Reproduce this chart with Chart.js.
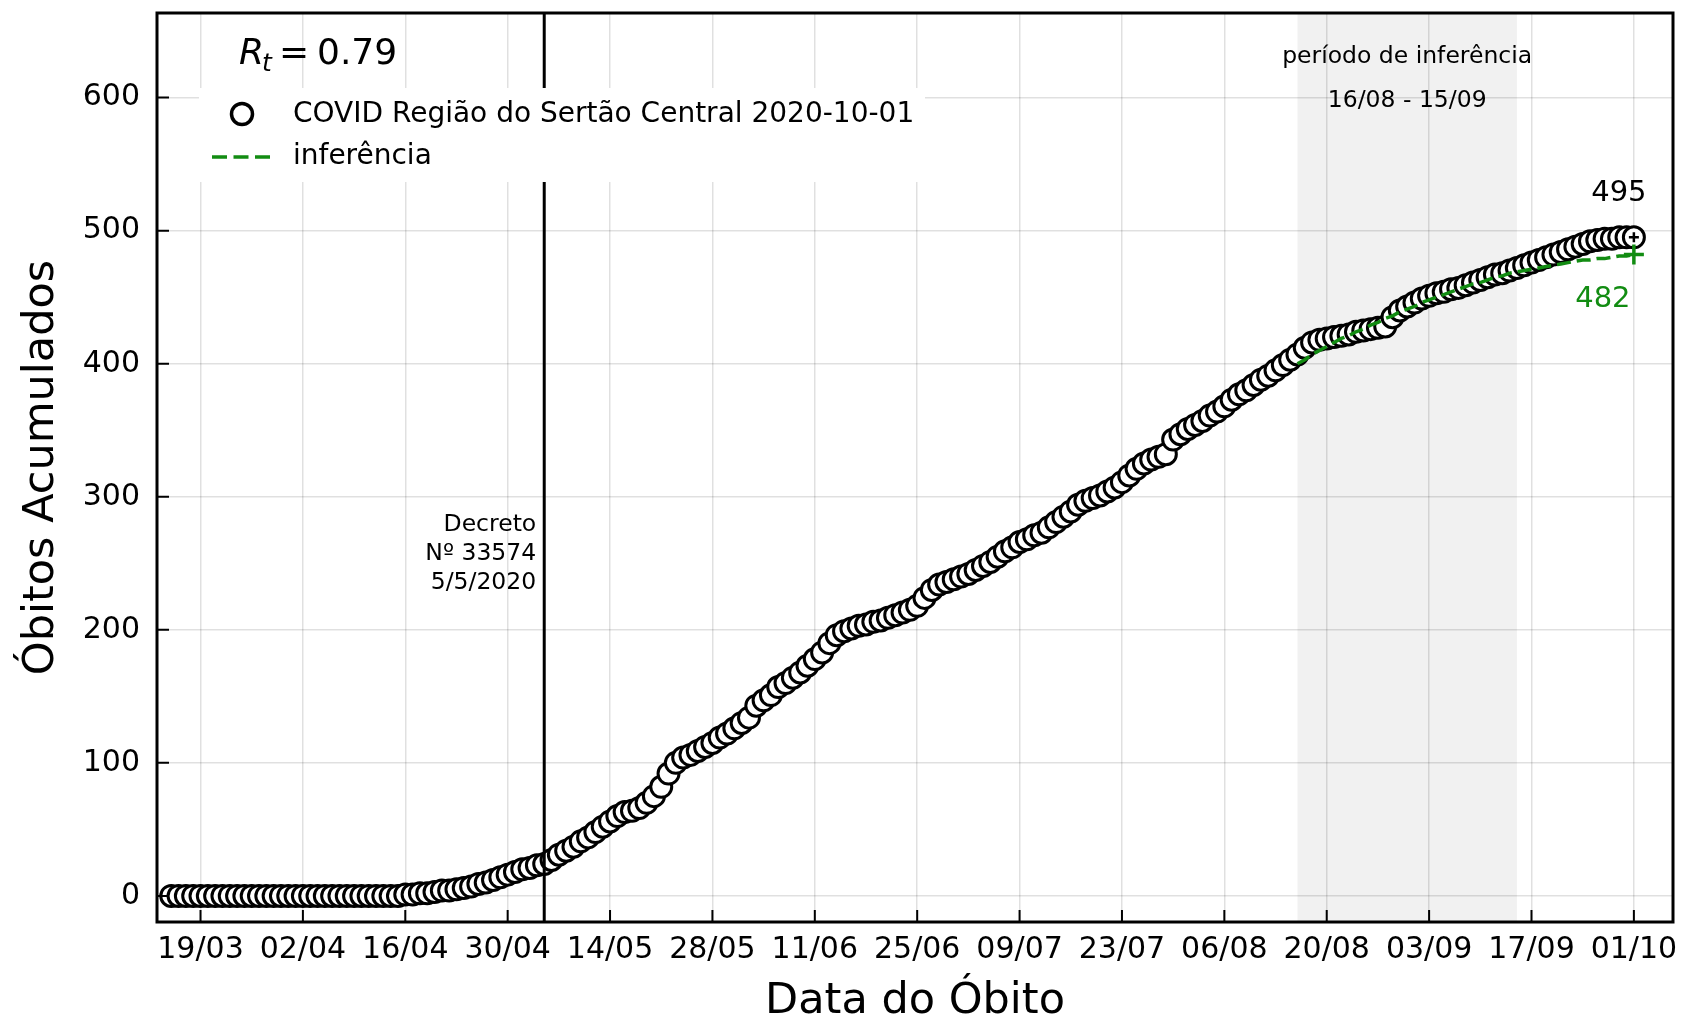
<!DOCTYPE html>
<html>
<head>
<meta charset="utf-8">
<script src="https://cdn.jsdelivr.net/npm/chart.js@4.4.1/dist/chart.umd.min.js"></script>
<style>
  html, body { margin: 0; padding: 0; background: #fff; }
  canvas { display: block; }
</style>
</head>
<body>
<canvas id="myChart" width="1681" height="1018"></canvas>
<script>
// óbitos acumulados por dia, a partir de startDate
const startDate = '2020-03-15';
const obitos = [
  // março 15-31
  0, 0, 0, 0, 0, 0, 0, 0, 0, 0, 0, 0, 0, 0, 0, 0, 0,
  // abril
  0, 0, 0, 0, 0, 0, 0, 0, 0, 0, 0, 0, 0, 0, 0,
  1, 1, 2, 2, 3, 4, 4, 5, 6, 7, 9, 10, 12, 14, 16,
  // maio
  18, 20, 21, 23, 24, 27, 31, 34, 37, 41, 44, 48, 52, 56, 60, 63,
  64, 66, 70, 75, 82, 92, 100, 104, 106, 109, 112, 115, 119, 122, 126,
  // junho
  130, 134, 143, 147, 151, 157, 160, 164, 168, 173, 178, 183, 190, 196, 199,
  201, 203, 204, 206, 207, 209, 211, 213, 215, 218, 224, 230, 234, 236, 238,
  // julho
  240, 242, 245, 248, 251, 255, 259, 262, 266, 268, 271, 273, 277, 281, 285, 289,
  294, 297, 299, 301, 304, 307, 311, 316, 321, 325, 328, 330, 332, 343, 347,
  // agosto
  351, 354, 357, 361, 364, 368, 373, 377, 380, 384, 388, 391, 395, 399, 403, 407,
  412, 416, 418, 419, 420, 421, 422, 424, 425, 426, 427, 428, 435, 440, 443,
  // setembro
  446, 449, 451, 453, 454, 456, 457, 459, 461, 463, 465, 467, 468, 470, 472,
  474, 476, 478, 480, 482, 484, 486, 488, 490, 492, 493, 494, 494, 495, 495,
  // outubro
  495
];

const inferenciaStart = '2020-08-16';
const inferencia = [
  400, 403, 407, 410, 413, 416, 419, 421, 424, 426, 429, 431, 434, 436, 439, 441,
  443, 446, 448, 450, 452, 454, 456, 458, 460, 461, 463, 465, 466, 468, 469,
  470, 471, 472, 473, 474, 475, 476, 477, 478, 478, 479, 479, 480, 481, 481,
  482
];

const tickLabels = ['19/03', '02/04', '16/04', '30/04', '14/05', '28/05', '11/06', '25/06',
  '09/07', '23/07', '06/08', '20/08', '03/09', '17/09', '01/10'];
const yTicks = [0, 100, 200, 300, 400, 500, 600];

const serieLabel = 'COVID Região do Sertão Central 2020-10-01';
const infLabel = 'inferência';
const decreto = '2020-05-05';
const decretoText = ['Decreto', 'Nº 33574', '5/5/2020'];
const periodo = ['2020-08-16', '2020-09-15'];
const periodoText = ['período de inferência', '16/08 - 15/09'];
const rt = 0.79;

const green = '#128c12';
const FONT = '"DejaVu Sans"';

const DAY = 86400000;
const t0 = Date.parse(startDate);
function dayOf(iso) { return Math.round((Date.parse(iso) - t0) / DAY); }
function dayOfLabel(lbl) {
  const [d, m] = lbl.split('/');
  return dayOf('2020-' + m + '-' + d);
}

const serie = obitos.map((v, i) => ({x: i, y: v}));
const infOff = dayOf(inferenciaStart);
const inf = inferencia.map((v, i) => ({x: infOff + i, y: v}));
const ultimo = serie[serie.length - 1];
const ultimoInf = inf[inf.length - 1];

Chart.defaults.font.family = 'DejaVu Sans';
Chart.defaults.color = '#000';

const decor = {
  id: 'decor',
  beforeDraw(chart) {
    const {ctx, chartArea: a, scales: {x}} = chart;
    ctx.save();
    ctx.fillStyle = '#fff';
    ctx.fillRect(0, 0, chart.width, chart.height);
    const x0 = x.getPixelForValue(dayOf(periodo[0]));
    const x1 = x.getPixelForValue(dayOf(periodo[1]));
    ctx.fillStyle = '#f1f1f1';
    ctx.fillRect(x0, a.top, x1 - x0, a.bottom - a.top);
    ctx.restore();
  },
  afterDatasetsDraw(chart) {
    const {ctx, chartArea: a, scales: {x, y}} = chart;
    ctx.save();

    // linha do decreto
    const xd = x.getPixelForValue(dayOf(decreto));
    ctx.strokeStyle = '#000';
    ctx.lineWidth = 3;
    ctx.beginPath();
    ctx.moveTo(xd, a.top);
    ctx.lineTo(xd, a.bottom);
    ctx.stroke();

    ctx.fillStyle = '#000';
    ctx.font = '23.5px ' + FONT;
    ctx.textAlign = 'right';
    ctx.textBaseline = 'middle';
    decretoText.forEach((t, i) => ctx.fillText(t, xd - 8, y.getPixelForValue(280) + 2 + i * 29));

    // periodo de inferencia
    const xm = (x.getPixelForValue(dayOf(periodo[0])) + x.getPixelForValue(dayOf(periodo[1]))) / 2;
    ctx.textAlign = 'center';
    periodoText.forEach((t, i) => ctx.fillText(t, xm, a.top + 44 + i * 44));

    // legenda
    ctx.fillStyle = '#fff';
    ctx.fillRect(a.left + 42, a.top + 75, 726, 94);
    ctx.beginPath();
    ctx.arc(a.left + 85, a.top + 101, 10.5, 0, Math.PI * 2);
    ctx.fill();
    ctx.lineWidth = 3.5;
    ctx.strokeStyle = '#000';
    ctx.stroke();
    ctx.strokeStyle = green;
    ctx.lineWidth = 3.5;
    ctx.setLineDash([15, 6.5]);
    ctx.beginPath();
    ctx.moveTo(a.left + 55, a.top + 144);
    ctx.lineTo(a.left + 113, a.top + 144);
    ctx.stroke();
    ctx.setLineDash([]);
    ctx.fillStyle = '#000';
    ctx.font = '28px ' + FONT;
    ctx.textAlign = 'left';
    ctx.textBaseline = 'middle';
    ctx.fillText(chart.data.datasets[1].label, a.left + 136, a.top + 102);
    ctx.fillText(chart.data.datasets[0].label, a.left + 136, a.top + 144);

    // R_t
    ctx.textBaseline = 'alphabetic';
    ctx.font = 'italic 36px ' + FONT;
    ctx.fillText('R', a.left + 82, a.top + 51);
    ctx.font = 'italic 25px ' + FONT;
    ctx.fillText('t', a.left + 105, a.top + 58);
    ctx.font = '36px ' + FONT;
    ctx.fillText('=', a.left + 122, a.top + 51);
    ctx.fillText(rt.toFixed(2), a.left + 160, a.top + 51);

    // valores finais
    ctx.font = '29px ' + FONT;
    ctx.textAlign = 'center';
    ctx.fillText(String(ultimo.y), x.getPixelForValue(ultimo.x) - 15, y.getPixelForValue(ultimo.y) - 36);
    ctx.fillStyle = green;
    ctx.fillText(String(ultimoInf.y), x.getPixelForValue(ultimoInf.x) - 31, y.getPixelForValue(ultimoInf.y) + 52);

    // eixos e ticks para dentro
    ctx.strokeStyle = '#000';
    ctx.lineWidth = 2;
    ctx.beginPath();
    x.ticks.forEach(t => {
      const px = x.getPixelForValue(t.value);
      ctx.moveTo(px, a.bottom);
      ctx.lineTo(px, a.bottom - 12);
    });
    y.ticks.forEach(t => {
      const py = y.getPixelForValue(t.value);
      ctx.moveTo(a.left, py);
      ctx.lineTo(a.left + 12, py);
    });
    ctx.stroke();
    ctx.lineWidth = 3;
    ctx.strokeRect(a.left, a.top, a.right - a.left, a.bottom - a.top);
    ctx.restore();
  }
};

new Chart(document.getElementById('myChart'), {
  type: 'scatter',
  data: {
    datasets: [{
      label: infLabel,
      data: inf,
      showLine: true,
      borderColor: green,
      borderWidth: 3.5,
      borderDash: [14, 6],
      pointStyle: 'cross',
      pointRadius: inf.map((p, i) => i === inf.length - 1 ? 10 : 0),
      pointBorderColor: green,
      pointBorderWidth: 3.5,
      order: 0
    }, {
      label: serieLabel,
      data: serie,
      showLine: false,
      pointRadius: 10.5,
      pointBackgroundColor: '#fff',
      pointBorderColor: '#000',
      pointBorderWidth: 3,
      order: 1
    }, {
      label: 'último',
      data: [ultimo],
      showLine: false,
      pointStyle: 'cross',
      pointRadius: 5,
      pointBorderColor: '#000',
      pointBorderWidth: 2.5,
      order: -1
    }]
  },
  options: {
    responsive: false,
    animation: false,
    layout: { autoPadding: false, padding: { left: 0, right: 8, top: 13, bottom: 0 } },
    plugins: {
      legend: { display: false },
      tooltip: { enabled: false }
    },
    scales: {
      x: {
        type: 'linear',
        min: -1.95,
        max: 205.35,
        afterBuildTicks: s => { s.ticks = tickLabels.map(l => ({ value: dayOfLabel(l) })); },
        afterFit: s => { s.height = 96; s.paddingLeft = 0; s.paddingRight = 0; },
        grid: { color: 'rgba(0,0,0,0.12)', lineWidth: 1.5, drawTicks: false },
        border: { display: false },
        ticks: {
          padding: 10, maxRotation: 0, autoSkip: false,
          font: { size: 30 },
          callback: (v, i) => tickLabels[i]
        },
        title: { display: true, text: 'Data do Óbito', font: { size: 43, lineHeight: 0.9 }, padding: { top: 0, bottom: -3 } }
      },
      y: {
        type: 'linear',
        min: -19.6,
        max: 663.6,
        afterBuildTicks: s => { s.ticks = yTicks.map(v => ({ value: v })); },
        afterFit: s => { s.width = 157; s.paddingTop = 0; s.paddingBottom = 0; },
        grid: { color: 'rgba(0,0,0,0.12)', lineWidth: 1.5, drawTicks: false },
        border: { display: false },
        ticks: {
          padding: 17,
          font: { size: 30 },
          callback: v => String(v)
        },
        title: { display: true, text: 'Óbitos Acumulados', font: { size: 43, lineHeight: 0.9 }, padding: { top: 22, bottom: 0 } }
      }
    }
  },
  plugins: [decor]
});
</script>
</body>
</html>
